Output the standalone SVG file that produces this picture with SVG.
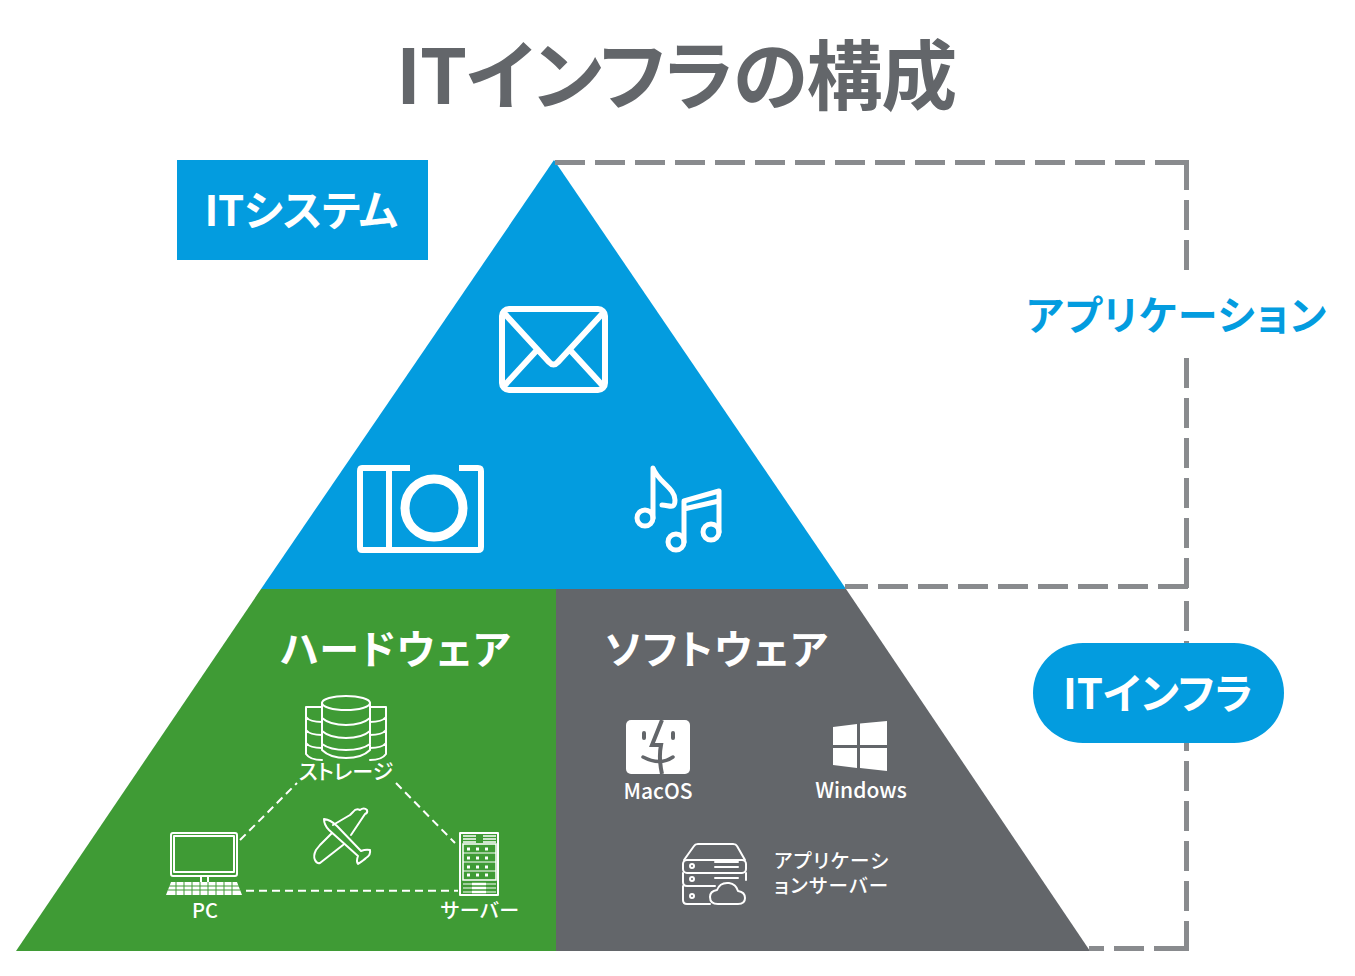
<svg xmlns="http://www.w3.org/2000/svg" width="1355" height="976" viewBox="0 0 1355 976">
<style>
text{font-family:"Noto Sans CJK JP","Noto Sans",sans-serif;font-feature-settings:"palt";font-weight:500;text-anchor:middle}
.b{font-weight:700}
.w{fill:#fff}
.i{fill:none;stroke:#fff;stroke-width:2;stroke-linejoin:round;stroke-linecap:round}
.d{fill:none;stroke:#898b8e;stroke-width:5;stroke-dasharray:30 10}
.l{fill:none;stroke:#fff;stroke-width:2;stroke-dasharray:8 5}
</style>
<rect width="1355" height="976" fill="#fff"/>
<text id="title" class="b" x="676" y="104" font-size="76" letter-spacing="-1.200" fill="#63666a">ITインフラの構成</text>
<g id="pyramid-top"><path d="M554 160L846 589H261Z" fill="#039cdf"/></g>
<g id="hardware"><path d="M261 589H556V951H16Z" fill="#3f9b35"/>
<text class="b w" x="396" y="664" font-size="40" letter-spacing="1.500">ハードウェア</text></g>
<g id="software"><path d="M556 589H846L1090 951H556Z" fill="#63666a"/>
<text class="b w" x="717" y="664" font-size="40" letter-spacing="1.500">ソフトウェア</text></g>
<g id="connectors">
<path class="d" d="M555 162.500H1185"/>
<path class="d" d="M1186.500 160V271"/>
<path class="d" d="M1186.500 358V589"/>
<path class="d" d="M1188 586.500H845"/>
<path class="d" d="M1186.500 601V951"/>
<path class="d" d="M1184 948.500H1089"/>
<path class="l" d="M240 840L297 783M396 783L455 843M246 890.700H458"/>
</g>
<g id="it-system"><rect x="177" y="160" width="251" height="100" fill="#039cdf"/>
<text class="b w" x="301" y="226" font-size="42" letter-spacing="-0.300">ITシステム</text></g>
<g id="application-label"><text class="b" x="1177" y="330" font-size="40" letter-spacing="1.400" fill="#039cdf">アプリケーション</text></g>
<g id="it-infra"><rect x="1033" y="643" width="251" height="100" rx="50" fill="#039cdf"/>
<text class="b w" x="1158" y="709" font-size="42">ITインフラ</text></g>
<g id="mail"><g fill="none" stroke="#fff" stroke-width="6" stroke-linejoin="round">
<rect x="502" y="309" width="103" height="81" rx="7"/>
<path d="M504 313L549 362Q553.500 367 558 362L603 313M504 386L537 350M603 386L570 350"/></g></g>
<g id="camera"><g fill="none" stroke="#fff" stroke-width="6" stroke-linejoin="round">
<path d="M410 468H362Q360 468 360 471V547Q360 550 362 550H478Q481 550 481 547V471Q481 468 478 468H459"/>
<path d="M389 468V550"/><circle cx="434" cy="508" r="29" stroke-width="9"/></g></g>
<g id="music"><g fill="none" stroke="#fff" stroke-width="5" stroke-linecap="round" stroke-linejoin="round">
<circle cx="645" cy="518" r="8"/><path d="M653 518V468C658 482 675 488 675 500C675 510 669 505 662 505"/>
<circle cx="676" cy="542" r="8"/><circle cx="711" cy="532" r="8"/>
<path d="M684 542V501L719 491V532M684 503V509L719 501"/></g></g>
<g id="storage">
<path class="i" d="M322 707H306V754Q310 760 322 760M370 707H386V754Q382 760 370 760M306 717Q310 722 322 722M306 730Q310 735 322 735M306 743Q310 748 322 748M386 717Q382 722 370 722M386 730Q382 735 370 735M386 743Q382 748 370 748"/>
<ellipse class="i" cx="346" cy="703" rx="24" ry="7"/>
<path class="i" d="M322 703V750Q330 758 346 758T370 750V703M322 718Q330 725 346 725T370 718M322 731Q330 738 346 738T370 731M322 744Q330 750 346 750T370 744"/>
<text class="w" x="346" y="779" font-size="21">ストレージ</text></g>
<g id="pc">
<rect class="i" x="171" y="833" width="66" height="43" rx="2"/><rect class="i" x="174" y="836" width="60" height="36"/>
<path class="i" d="M201 877V882M208 877V882"/>
<path d="M171 882H237L242 895H166Z" fill="#fff"/>
<path d="M169 886H239M168 890H240M176 882V895M184 882V895M192 882V895M200 882V895M208 882V895M216 882V895M224 882V895M232 882V895" stroke="#3f9b35" stroke-width="1" fill="none"/>
<text class="w" x="205" y="918" font-size="20">PC</text></g>
<g id="server">
<rect class="i" x="460" y="833" width="38" height="62"/>
<path d="M463 836H476M463 839H476M463 842H476M483 836H496M483 839H496M483 842H496" stroke="#fff" stroke-width="1.500" fill="none"/>
<rect x="463" y="844" width="33" height="36" fill="none" stroke="#fff" stroke-width="1.500"/>
<path d="M463 853H496M463 862H496M463 871H496M463 884H496M463 888H496M463 892H496" stroke="#fff" stroke-width="1.200"/>
<path d="M467 849H492M467 858H492M467 867H492M467 875H492" stroke="#fff" stroke-width="3" stroke-dasharray="3 6" fill="none"/>
<path d="M472 884H486M472 888H486M472 892H486" stroke="#fff" stroke-width="2.500"/>
<text class="w" x="480" y="918" font-size="20" letter-spacing="0.500">サーバー</text></g>
<g id="plane"><path class="i" d="M324 819Q331 820 337 826L361 851Q366 849 370 850Q371 855 366 858Q364 860 358 864Q356 861 358 856L329 830Q324 825 324 819ZM333 825L350 815L353 812Q356 808 360 810Q364 807 367 810Q368 813 365 814L351 835M332 833L320 845L316 850Q313 856 315 860Q317 864 320 863L343 845"/></g>
<g id="macos"><rect x="626" y="720" width="64" height="54" rx="5" fill="#fff"/>
<path d="M662 720L652 745H661C659 755 660 765 662 774" fill="none" stroke="#63666a" stroke-width="4"/>
<path d="M643 757Q660 766 673 757" fill="none" stroke="#63666a" stroke-width="3.500" stroke-linecap="round"/>
<path d="M644 733V738M673 733V738" stroke="#63666a" stroke-width="4" stroke-linecap="round"/>
<text class="w" x="658" y="799" font-size="21">MacOS</text></g>
<g id="windows"><path d="M833 727L857 724V745H833ZM860 723.500L887 721V745H860ZM833 748H857V768L833 765ZM860 748H887V771L860 768Z" fill="#fff"/>
<text class="w" x="861" y="798" font-size="21">Windows</text></g>
<g id="app-server">
<path class="i" d="M684 860L694 846Q695 844 698 844H733Q736 844 737 846L745 860"/>
<rect class="i" x="683" y="860" width="63" height="13" rx="4"/><path class="i" d="M683 873V882Q683 886 687 886H715M746 873V880M683 886V900Q683 904 687 904H710"/>
<circle class="i" cx="692" cy="866" r="2"/><circle class="i" cx="692" cy="879" r="2"/><circle class="i" cx="692" cy="896" r="2"/>
<path class="i" d="M715 862H738M715 867H738M715 878H738"/>
<path class="i" d="M718 904Q710 904 710 897Q710 891 717 890Q720 882 729 883Q736 884 738 891Q745 892 745 898Q745 904 738 904Z"/>
<text class="w" font-size="19.500" letter-spacing="1.400"><tspan x="832" y="868">アプリケーシ</tspan><tspan x="832" y="893">ョンサーバー</tspan></text></g>
</svg>
